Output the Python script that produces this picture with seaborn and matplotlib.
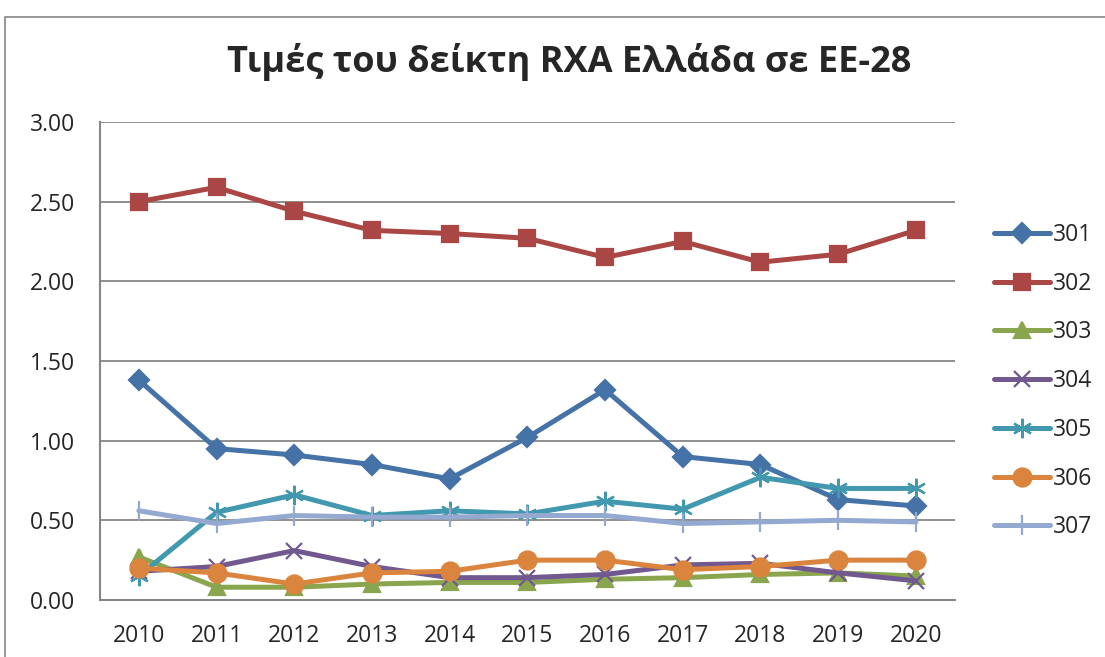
import matplotlib
matplotlib.use('Agg')
import matplotlib.pyplot as plt
from matplotlib.patches import Rectangle
import pandas as pd
import seaborn as sns

years = [2010, 2011, 2012, 2013, 2014, 2015, 2016, 2017, 2018, 2019, 2020]
s301 = [1.38, 0.95, 0.91, 0.85, 0.76, 1.02, 1.32, 0.90, 0.85, 0.63, 0.59]
s302 = [2.50, 2.59, 2.44, 2.32, 2.30, 2.27, 2.15, 2.25, 2.12, 2.17, 2.32]
s303 = [0.27, 0.08, 0.08, 0.10, 0.11, 0.11, 0.13, 0.14, 0.16, 0.17, 0.15]
s304 = [0.18, 0.21, 0.31, 0.21, 0.14, 0.14, 0.16, 0.22, 0.23, 0.17, 0.12]
s305 = [0.15, 0.55, 0.66, 0.53, 0.56, 0.54, 0.62, 0.57, 0.77, 0.70, 0.70]
s306 = [0.20, 0.17, 0.10, 0.17, 0.18, 0.25, 0.25, 0.19, 0.21, 0.25, 0.25]
s307 = [0.56, 0.48, 0.53, 0.52, 0.52, 0.53, 0.53, 0.48, 0.49, 0.50, 0.49]
codes = ['301', '302', '303', '304', '305', '306', '307']
title = 'Τιμές του δείκτη RXA Ελλάδα σε ΕΕ-28'

colors = ['#4572A7', '#AA4643', '#89A54E', '#71588F', '#4198AF', '#DB843D', '#93A9CF']
markers = ['D', 's', '^', 'x', (6, 2, 0), 'o', '|']
msizes = [10, 11, 11, 12, 14, 13, 14]

series = [s301, s302, s303, s304, s305, s306, s307]

sns.set_style('white')
plt.rcParams['font.family'] = ['Open Sans', 'DejaVu Sans']

fig = plt.figure(figsize=(11.05, 6.57), dpi=100)
ax = fig.add_axes([0.0905, 0.0868, 0.7735, 0.7275])

# one lineplot per product code (markers differ in kind)
for code, vals, c, m, ms in zip(codes, series, colors, markers, msizes):
    d = pd.DataFrame({'year': years, 'value': vals})
    sns.lineplot(data=d, x='year', y='value', color=c, marker=m, markersize=ms,
                 markeredgecolor=c, markeredgewidth=1.6, lw=3.6, label=code, ax=ax)

ax.set_xlim(2009.5, 2020.5)
ax.set_ylim(0, 3)
yt = [0, 0.5, 1.0, 1.5, 2.0, 2.5, 3.0]
ax.set_yticks(yt)
ax.set_yticklabels(['{:.2f}'.format(v) for v in yt])
ax.set_xticks(years)
ax.set_xticklabels([str(y) for y in years])
ax.set_xticks([y - 0.5 for y in years] + [2020.5], minor=True)
ax.tick_params(axis='x', which='major', length=0, labelsize=16.5, pad=17)
ax.tick_params(axis='x', which='minor', length=6, width=1.5, color='#868686', direction='out')
ax.tick_params(axis='y', length=6, width=1.5, color='#868686', direction='out', labelsize=16.5, pad=12)
ax.grid(axis='y', color='#868686', lw=1.3)
ax.set_axisbelow(True)
for side in ['top', 'right']:
    ax.spines[side].set_visible(False)
for side in ['left', 'bottom']:
    ax.spines[side].set_color('#868686')
    ax.spines[side].set_linewidth(1.5)
ax.set_xlabel('')
ax.set_ylabel('')

leg = ax.legend(loc='center left', bbox_to_anchor=(1.022, 0.458), frameon=False,
                fontsize=16.5, labelspacing=1.08, handlelength=2.45, handletextpad=0.1)

fig.text(0.515, 0.891, title, ha='center', va='baseline', fontsize=26, fontweight='bold')

fig.patches.append(Rectangle((5 / 1105, -0.1), 1.2, 1 - 17 / 657 + 0.1,
                             transform=fig.transFigure, fill=False,
                             edgecolor='#868686', lw=1.2))

fig.savefig('out.png', dpi=100)
